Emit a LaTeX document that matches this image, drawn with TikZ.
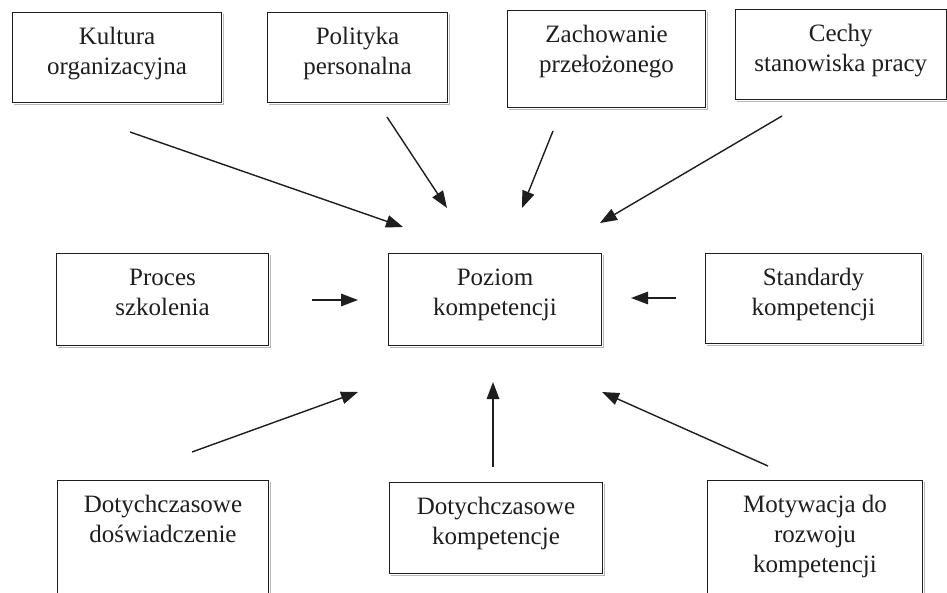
\documentclass[tikz,border=0pt]{standalone}
\usepackage{fontspec}
\setmainfont{Liberation Serif}
\usetikzlibrary{arrows.meta}
\definecolor{ink}{HTML}{1E1E1E}
\definecolor{smear}{HTML}{B8B8B8}

% A framed box with its caption set from the top edge down
\newcommand\boxitem[6]{%
  \node[box, minimum width=#4pt, minimum height=#5pt] (#1) at (#2,#3) {};
  \draw[rim] ([xshift=1.6pt,yshift=-2pt]#1.north east)
          -- ([xshift=1.6pt,yshift=-1.6pt]#1.south east)
          -- ([xshift=2pt,yshift=-1.6pt]#1.south west);
  \node[lbl] (#1-t) at ([yshift=-11pt]#1.north) {\strut #6};
}

\begin{document}
\begin{tikzpicture}[x=1pt,y=-1pt,
  box/.style={draw=ink, line width=1pt, rectangle, inner sep=0pt, anchor=north west},
  rim/.style={draw=smear, line width=1.6pt},
  lbl/.style={anchor=north, align=center, inner sep=0pt, text=ink,
              font=\fontsize{25}{30}\selectfont},
  flow/.style={draw=ink, line width=1.4pt, -{Triangle[length=17pt,width=12.5pt]}}]

\fill[white] (0,0) rectangle (947,593);
\useasboundingbox (0,0) rectangle (947,593);

% top row of influences
\boxitem{kultura}{12}{12}{209}{90}{Kultura\\organizacyjna}
\boxitem{polityka}{267}{12}{180}{90}{Polityka\\personalna}
\boxitem{zachowanie}{507}{10}{198}{97}{Zachowanie\\przełożonego}
\boxitem{cechy}{735}{9}{210.5}{90}{Cechy\\stanowiska pracy}

% middle row
\boxitem{proces}{56}{253}{212}{92}{Proces\\szkolenia}
\boxitem{poziom}{388}{253}{213}{92}{Poziom\\kompetencji}
\boxitem{standardy}{705}{253}{216}{90}{Standardy\\kompetencji}

% bottom row
\boxitem{doswiadczenie}{57}{480}{211}{130}{Dotychczasowe\\doświadczenie}
\boxitem{dotkomp}{389}{482}{213}{91}{Dotychczasowe\\kompetencje}
\boxitem{motywacja}{707}{480}{215}{130}{Motywacja do\\rozwoju\\kompetencji}

% arrow end points
\coordinate (kultura-a) at (130,132);    \coordinate (kultura-b) at (403,227);
\coordinate (polityka-a) at (387,117);   \coordinate (polityka-b) at (447,208);
\coordinate (zachowanie-a) at (553,131); \coordinate (zachowanie-b) at (522,208);
\coordinate (cechy-a) at (782,116);      \coordinate (cechy-b) at (600,223);
\coordinate (proces-a) at (312,300);     \coordinate (proces-b) at (358,300);
\coordinate (standardy-a) at (676,298);  \coordinate (standardy-b) at (631,298);
\coordinate (dosw-a) at (192,452);       \coordinate (dosw-b) at (358,392);
\coordinate (dotkomp-a) at (493,467);    \coordinate (dotkomp-b) at (493,382);
\coordinate (motyw-a) at (768,466);      \coordinate (motyw-b) at (602,392);

\draw[flow] (kultura-a) -- (kultura-b);
\draw[flow] (polityka-a) -- (polityka-b);
\draw[flow] (zachowanie-a) -- (zachowanie-b);
\draw[flow] (cechy-a) -- (cechy-b);
\draw[flow] (proces-a) -- (proces-b);
\draw[flow] (standardy-a) -- (standardy-b);
\draw[flow] (dosw-a) -- (dosw-b);
\draw[flow] (dotkomp-a) -- (dotkomp-b);
\draw[flow] (motyw-a) -- (motyw-b);

\end{tikzpicture}
\end{document}
